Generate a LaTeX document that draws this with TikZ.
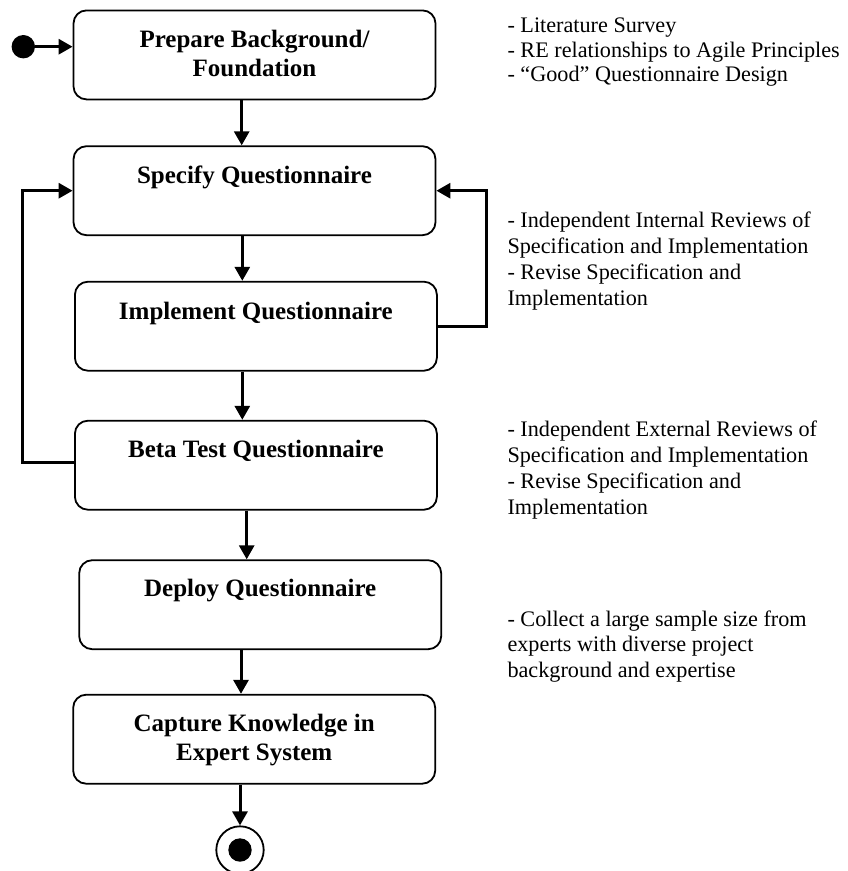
\documentclass[tikz,border=0pt]{standalone}
\usepackage{fontspec}
\setmainfont{Liberation Serif}
\usetikzlibrary{arrows.meta}
\begin{document}
\begin{tikzpicture}[x=1pt,y=-1pt,
  box/.style={draw, line width=1.8pt, rounded corners=13pt, minimum width=362pt, minimum height=89pt, inner sep=0pt},
  lbl/.style={font=\fontsize{25}{29.5}\selectfont\bfseries, align=center, anchor=base, inner sep=0pt},
  note/.style={font=\fontsize{22.2}{25.8}\selectfont, align=left, anchor=base west, inner sep=0pt},
  arr/.style={line width=3pt, -{Triangle[length=14pt,width=15pt]}},
  startdot/.style={circle, fill, minimum size=23.4pt, inner sep=0pt}]
\useasboundingbox (0,0) rectangle (848,871);

% activity boxes
\node[box] (b1) at (254.5,54.9) {};
\node[box] (b2) at (254.5,190.7) {};
\node[box] (b3) at (255.9,326.2) {};
\node[box] (b4) at (255.9,465.2) {};
\node[box] (b5) at (260.2,604.7) {};
\node[box] (b6) at (254.2,739.2) {};

% box labels (base = last line)
\node[lbl] (l1) at (254.5,76.7) {Prepare Background/\\Foundation};
\node[lbl] (l2) at (254.5,183.3) {Specify Questionnaire};
\node[lbl] (l3) at (255.9,319.3) {Implement Questionnaire};
\node[lbl] (l4) at (255.9,457.7) {Beta Test Questionnaire};
\node[lbl] (l5) at (260.2,596.7) {Deploy Questionnaire};
\node[lbl] (l6) at (254.2,760.7) {Capture Knowledge in\\Expert System};

% start and end states
\node[startdot] (start) at (23.3,46.7) {};
\node[circle, draw, line width=1.8pt, minimum size=47.4pt, inner sep=0pt] (fin) at (240,850) {};
\node[startdot] (finin) at (fin.center) {};

% column coordinates
\coordinate (c1) at (241.7,0);
\coordinate (c2) at (242.3,0);
\coordinate (c3) at (242.3,0);
\coordinate (c4) at (246.7,0);
\coordinate (c5) at (241,0);
\coordinate (c6) at (240,0);
\coordinate (rr) at (486,0);
\coordinate (ll) at (22.7,0);

% flow
\draw[arr] (start.east) -- (start -| b1.west);
\draw[arr] (c1 |- b1.south) -- (c1 |- b2.north);
\draw[arr] (c2 |- b2.south) -- (c2 |- b3.north);
\draw[arr] (c3 |- b3.south) -- (c3 |- b4.north);
\draw[arr] (c4 |- b4.south) -- (c4 |- b5.north);
\draw[arr] (c5 |- b5.south) -- (c5 |- b6.north);
\draw[arr] (c6 |- b6.south) -- (fin.north);

% feedback loops
\draw[arr] (b3.east) -| (rr |- b2.east) -- (b2.east);
\coordinate (b4w) at ([yshift=2.8pt]b4.west);
\draw[arr] (b4w) -| (ll |- b2.west) -- (b2.west);

% notes (base = last line)
\node[note, font=\fontsize{22.2}{24.7}\selectfont] (n1) at (507.3,81.7) {- Literature Survey\\- RE relationships to Agile Principles\\- “Good” Questionnaire Design};
\node[note] (n2) at (507.3,305) {- Independent Internal Reviews of\\Specification and Implementation\\- Revise Specification and\\Implementation};
\node[note] (n3) at (507.3,514.3) {- Independent External Reviews of\\Specification and Implementation\\- Revise Specification and\\Implementation};
\node[note] (n4) at (507.3,677.7) {- Collect a large sample size from\\experts with diverse project\\background and expertise};
\end{tikzpicture}
\end{document}
